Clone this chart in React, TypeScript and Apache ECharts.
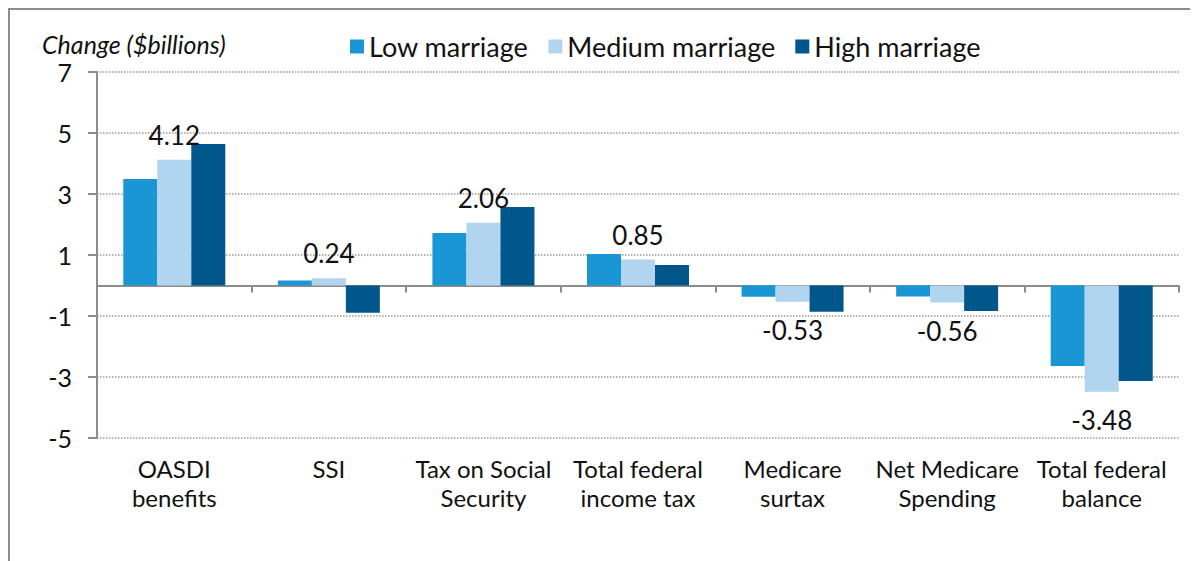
import React, { useEffect, useRef } from "react";
import * as echarts from "echarts";

const categories = [
  "OASDI\nbenefits",
  "SSI",
  "Tax on Social\nSecurity",
  "Total federal\nincome tax",
  "Medicare\nsurtax",
  "Net Medicare\nSpending",
  "Total federal\nbalance",
];
const seriesNames = ["Low marriage", "Medium marriage", "High marriage"];
const lowMarriage = [3.49, 0.16, 1.72, 1.03, -0.37, -0.36, -2.64];
const mediumMarriage = [4.12, 0.24, 2.06, 0.85, -0.53, -0.56, -3.48];
const highMarriage = [4.64, -0.89, 2.57, 0.67, -0.86, -0.84, -3.13];
const yMin = -5;
const yMax = 7;
const yStep = 2;
const axisTitle = "Change ($billions)";

const colors = ["#1a96d4", "#b1d5ef", "#01568b"];
const FONT = "Lato";
const GRAY = "#8c8c8c";

export default function App() {
  const ref = useRef<HTMLDivElement>(null);

  useEffect(() => {
    document.body.style.overflow = "hidden";
    const chart = echarts.init(ref.current!, undefined, { renderer: "svg" });
    const mk = (name: string, values: number[], color: string, labeled: boolean) => ({
      name,
      type: "bar",
      barWidth: 34,
      barGap: "0%",
      xAxisIndex: 0,
      yAxisIndex: 0,
      itemStyle: { color },
      data: values.map((v) => ({
        value: v,
        label: {
          show: labeled,
          position: v < 0 ? "bottom" : "top",
          distance: v < 0 ? 15 : 12,
          formatter: (p: any) => Number(p.value).toFixed(2),
          fontFamily: FONT,
          fontSize: 26,
          color: "#111",
        },
      })),
    });
    chart.setOption({
      animation: false,
      textStyle: { fontFamily: FONT },
      title: {
        text: axisTitle,
        left: 27,
        top: 18,
        textStyle: {
          fontFamily: FONT,
          fontSize: 25,
          lineHeight: 22,
          fontStyle: "italic",
          fontWeight: "normal",
          color: "#111",
        },
      },
      legend: {
        data: seriesNames,
        left: 335,
        top: 18,
        icon: "rect",
        itemWidth: 14,
        itemHeight: 14,
        itemGap: 20,
        textStyle: { fontFamily: FONT, fontSize: 27, color: "#111", padding: [0, 0, 0, 0] },
      },
      grid: { left: 87, top: 62, width: 1082, height: 366, containLabel: false },
      xAxis: [
        {
          type: "category",
          data: categories,
          position: "bottom",
          axisLine: { show: true, onZero: true, lineStyle: { color: GRAY, width: 2 } },
          axisTick: { show: true, length: 7, lineStyle: { color: GRAY, width: 2 } },
          axisLabel: { show: false },
          splitLine: { show: false },
        },
        {
          type: "category",
          data: categories,
          position: "bottom",
          axisLine: { show: false, onZero: false },
          axisTick: { show: false },
          splitLine: { show: false },
          axisLabel: {
            interval: 0,
            margin: 16,
            fontFamily: FONT,
            fontSize: 24,
            lineHeight: 29,
            color: "#111",
          },
        },
      ],
      yAxis: {
        type: "value",
        min: yMin,
        max: yMax,
        interval: yStep,
        axisLine: { show: true, lineStyle: { color: GRAY, width: 2 } },
        axisTick: { show: true, length: 9, lineStyle: { color: GRAY, width: 2 } },
        axisLabel: { margin: 25, fontFamily: FONT, fontSize: 25, lineHeight: 22, color: "#111" },
        splitLine: { show: true, lineStyle: { type: "dotted", color: "#999", width: 1.5 } },
      },
      series: [
        mk(seriesNames[0], lowMarriage, colors[0], false),
        mk(seriesNames[1], mediumMarriage, colors[1], true),
        mk(seriesNames[2], highMarriage, colors[2], false),
      ],
    });
    return () => chart.dispose();
  }, []);

  return (
    <div
      style={{
        width: 1190,
        height: 553,
        borderTop: `2px solid ${GRAY}`,
        borderLeft: `2px solid ${GRAY}`,
        boxSizing: "border-box",
      }}
    >
      <div ref={ref} style={{ width: 1188, height: 551 }} />
    </div>
  );
}
